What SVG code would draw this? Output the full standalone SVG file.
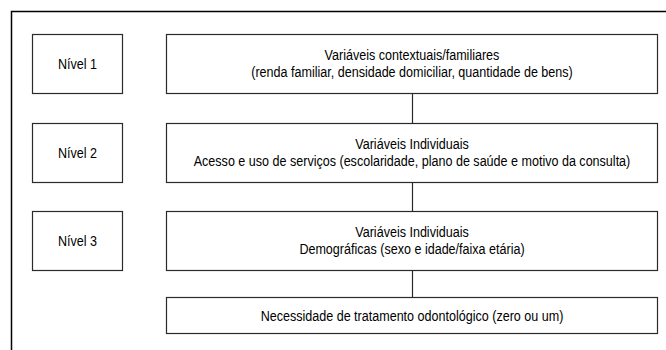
<svg xmlns="http://www.w3.org/2000/svg" width="666" height="350" viewBox="0 0 666 350">
<style>
.frame{fill:none;stroke:#000;stroke-width:1.5}
.box{fill:#fff;stroke:#2a2a2a;stroke-width:1.2}
.conn{fill:none;stroke:#2a2a2a;stroke-width:1.2}
text{font-family:"Liberation Sans",Arial,sans-serif;font-size:15.5px;fill:#000;text-anchor:middle;transform-box:fill-box;transform-origin:center;transform:scaleX(0.81)}
</style>
<rect width="666" height="350" fill="#fff"/>
<path class="frame" d="M11.5 350V11.5H666"/>
<g id="connectors">
<line class="conn" x1="412.5" y1="93.5" x2="412.5" y2="123.5"/>
<line class="conn" x1="412.5" y1="182.5" x2="412.5" y2="211.5"/>
<line class="conn" x1="412.5" y1="270.5" x2="412.5" y2="297.5"/>
</g>
<g id="nivel1">
<rect class="box" x="32.5" y="34.5" width="90" height="59"/>
<text x="77.5" y="69.5">Nível 1</text>
</g>
<g id="nivel2">
<rect class="box" x="32.5" y="123.5" width="90" height="59"/>
<text x="77.5" y="158.5">Nível 2</text>
</g>
<g id="nivel3">
<rect class="box" x="32.5" y="211.5" width="90" height="59"/>
<text x="77.5" y="246.5">Nível 3</text>
</g>
<g id="contextuais">
<rect class="box" x="166.5" y="34.5" width="491" height="59"/>
<text x="412" y="60">Variáveis contextuais/familiares</text>
<text x="412" y="77">(renda familiar, densidade domiciliar, quantidade de bens)</text>
</g>
<g id="individuais-acesso">
<rect class="box" x="166.5" y="123.5" width="491" height="59"/>
<text x="412" y="149">Variáveis Individuais</text>
<text x="412" y="166">Acesso e uso de serviços (escolaridade, plano de saúde e motivo da consulta)</text>
</g>
<g id="individuais-demograficas">
<rect class="box" x="166.5" y="211.5" width="491" height="59"/>
<text x="412" y="237">Variáveis Individuais</text>
<text x="412" y="254">Demográficas (sexo e idade/faixa etária)</text>
</g>
<g id="desfecho">
<rect class="box" x="166.5" y="297.5" width="491" height="36"/>
<text x="412" y="321">Necessidade de tratamento odontológico (zero ou um)</text>
</g>
</svg>
